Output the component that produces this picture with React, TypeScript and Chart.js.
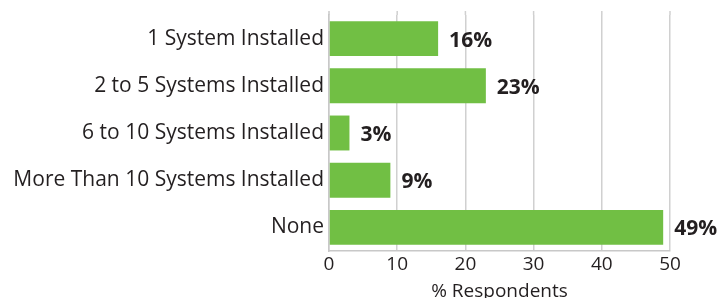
import React, { useEffect, useRef } from "react";
import { Chart, registerables } from "chart.js";

Chart.register(...registerables);

const categories = [
  "1 System Installed",
  "2 to 5 Systems Installed",
  "6 to 10 Systems Installed",
  "More Than 10 Systems Installed",
  "None",
];
const values = [16, 23, 3, 9, 49];
const xTicks = [0, 10, 20, 30, 40, 50];
const xTitle = "% Respondents";

const FONT = "'Open Sans', sans-serif";
const TEXT = "#231f20";
const GREEN = "#71bf44";
const GRID = "#d0d0d0";

const valueLabels = {
  id: "valueLabels",
  afterDatasetsDraw(chart: any) {
    const ctx = chart.ctx;
    const meta = chart.getDatasetMeta(0);
    ctx.save();
    ctx.font = `bold 21px ${FONT}`;
    ctx.fillStyle = TEXT;
    ctx.textAlign = "left";
    ctx.textBaseline = "middle";
    meta.data.forEach((bar: any, i: number) => {
      ctx.fillText(`${values[i]}%`, bar.x + 11, bar.y + 2);
    });
    ctx.restore();
  },
};

const gridExtend = {
  id: "gridExtend",
  beforeDatasetsDraw(chart: any) {
    const ctx = chart.ctx;
    const x = chart.scales.x;
    const top = chart.chartArea.top;
    ctx.save();
    ctx.lineWidth = 1.5;
    xTicks.forEach((v, i) => {
      ctx.strokeStyle = i === 0 ? "#c8c8c8" : GRID;
      const px = x.getPixelForValue(v);
      ctx.beginPath();
      ctx.moveTo(px, 11);
      ctx.lineTo(px, top);
      ctx.stroke();
    });
    ctx.restore();
  },
};

export default function App() {
  const ref = useRef<HTMLCanvasElement>(null);
  useEffect(() => {
    document.body.style.margin = "0";
    const chart = new Chart(ref.current!, {
      type: "bar",
      data: {
        labels: categories,
        datasets: [
          {
            data: values,
            backgroundColor: GREEN,
            borderWidth: 0,
            categoryPercentage: 1,
            barPercentage: 0.74,
          },
        ],
      },
      options: {
        indexAxis: "y",
        animation: false,
        responsive: false,
        layout: { padding: { top: 15, right: 48, left: 0, bottom: 0 } },
        plugins: { legend: { display: false }, tooltip: { enabled: false } },
        scales: {
          x: {
            min: 0,
            max: 50,
            afterBuildTicks: (s: any) => {
              s.ticks = xTicks.map((v) => ({ value: v }));
            },
            afterFit: (s: any) => {
              s.height = 47;
              s.paddingLeft = 0;
              s.paddingRight = 0;
            },
            grid: {
              color: GRID,
              lineWidth: 1.5,
              drawTicks: false,
            },
            border: { color: "#c8c8c8", width: 1.5 },
            ticks: {
              color: TEXT,
              font: { family: FONT, size: 19 },
              padding: 2,
            },
            title: {
              display: true,
              text: xTitle,
              color: TEXT,
              font: { family: FONT, size: 19 },
              padding: { top: 0, bottom: -5 },
            },
          },
          y: {
            afterFit: (s: any) => {
              s.width = 329;
              s.paddingTop = 0;
              s.paddingBottom = 0;
            },
            grid: { display: false, drawTicks: false },
            border: { color: "#c8c8c8", width: 1.5 },
            ticks: {
              color: TEXT,
              font: { family: FONT, size: 21 },
              padding: 5,
            },
          },
        },
      },
      plugins: [valueLabels, gridExtend],
    });
    return () => chart.destroy();
  }, []);
  return (
    <div style={{ position: "absolute", left: 0, top: 0, width: 718, height: 298 }}>
      <canvas ref={ref} width={718} height={298} style={{ display: "block" }} />
    </div>
  );
}
